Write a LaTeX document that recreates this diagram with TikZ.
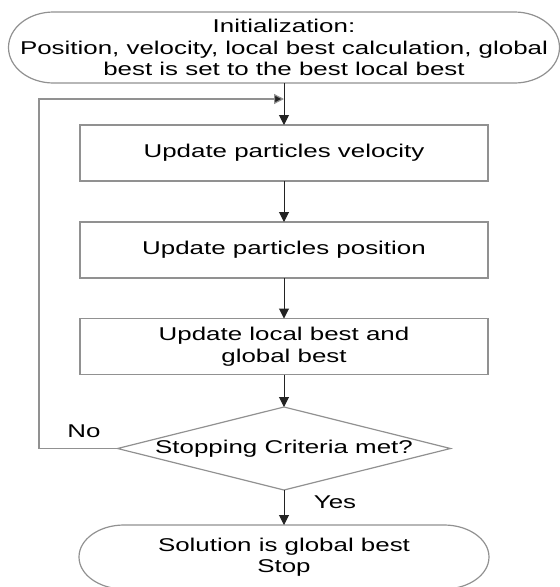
\documentclass[tikz,border=0pt]{standalone}
\usepackage{fontspec}
\setmainfont{Liberation Sans}[FakeStretch=1.4]
\usetikzlibrary{shapes.geometric,arrows.meta}
\definecolor{shapegray}{RGB}{145,145,145}
\definecolor{arrowgray}{RGB}{35,35,35}
\begin{document}
\begin{tikzpicture}[x=1pt,y=-1pt,
  txt/.style={font=\fontsize{18.5}{21.5}\selectfont, align=center, text=black},
  shapeline/.style={draw=shapegray, line width=1.2pt},
  procbox/.style={txt, shapeline, minimum width=408pt, minimum height=56pt, inner sep=0pt, outer sep=0pt},
  termnode/.style={txt, inner sep=0pt, outer sep=0pt},
  decnode/.style={txt, shapeline, shape=diamond, aspect=4, minimum width=333pt, minimum height=83pt, inner sep=0pt, outer sep=0pt},
  arr/.style={draw=arrowgray, line width=1pt, -{Triangle[length=10pt,width=10pt]}},
  looparr/.style={draw=shapegray, line width=1.2pt, -{Triangle[length=10pt,width=10pt,fill=arrowgray]}}
]
\useasboundingbox (0,0) rectangle (560,587);

% top terminal
\node[termnode, minimum width=551pt, minimum height=71pt] (init) at (284,47.5)
  {Initialization:\\Position, velocity, local best calculation, global\\best is set to the best local best};
\draw[shapeline] ([xshift=45pt]init.north west) -- ([xshift=-45pt]init.north east)
  arc[start angle=90, end angle=-90, x radius=45pt, y radius=35.5pt]
  -- ([xshift=45pt]init.south west)
  arc[start angle=270, end angle=90, x radius=45pt, y radius=35.5pt] -- cycle;

% process boxes
\node[procbox] (vel) at (284,153) {Update particles velocity};
\node[procbox] (pos) at (284,250) {Update particles position};
\node[procbox] (best) at (284,346.5) {Update local best and\\global best};

% decision
\node[decnode] (dec) at (284,448.5) {Stopping Criteria met?};

% bottom terminal
\node[termnode, minimum width=410pt, minimum height=64pt] (stop) at (284,557)
  {Solution is global best\\Stop};
\draw[shapeline] ([xshift=45pt]stop.north west) -- ([xshift=-45pt]stop.north east)
  arc[start angle=90, end angle=-90, x radius=45pt, y radius=32pt]
  -- ([xshift=45pt]stop.south west)
  arc[start angle=270, end angle=90, x radius=45pt, y radius=32pt] -- cycle;

% connectors
\draw[arr] (init.south) -- (vel.north);
\draw[arr] (vel.south) -- (pos.north);
\draw[arr] (pos.south) -- (best.north);
\draw[arr] (best.south) -- (dec.north);
\draw[arr] (dec.south) -- (stop.north);

\coordinate (lc) at (39,448.5);
\coordinate (lt) at (39,99);
\coordinate (lm) at (284,99);
\draw[looparr] (dec.west) -- (lc) -- (lt) -- (lm);

% labels
\node[txt] (no) at (84,431) {No};
\node[txt] (yes) at (335,502) {Yes};
\end{tikzpicture}
\end{document}
